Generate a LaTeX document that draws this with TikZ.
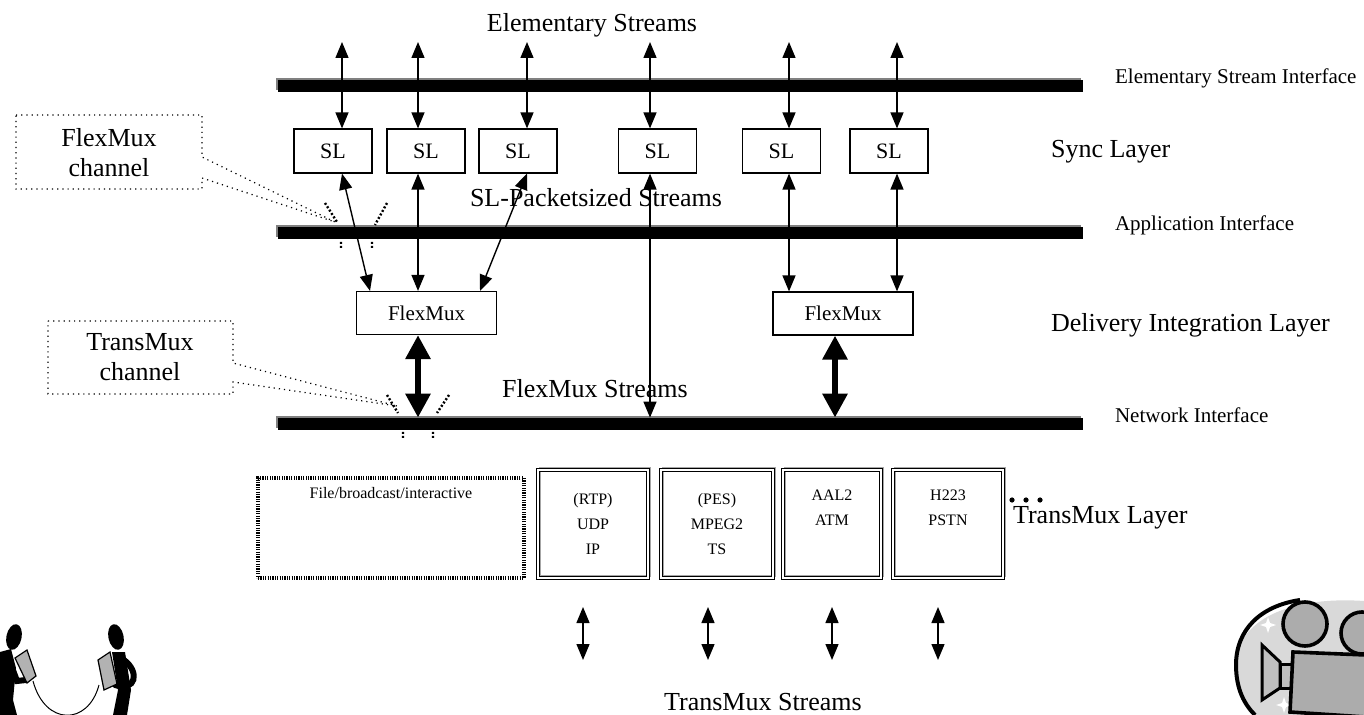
\documentclass[tikz,border=0pt]{standalone}
\usepackage{fontspec}
\setmainfont{Liberation Serif}
\usetikzlibrary{arrows.meta,positioning}

\begin{document}
\begin{tikzpicture}[
        x=0.5pt, y=-0.5pt,
        bigtxt/.style = {font=\fontsize{13}{15}\selectfont},
        iftxt/.style = {font=\fontsize{10.5}{12}\selectfont, anchor=west},
        ifbar/.style = {fill=black, minimum width=402.5pt, minimum height=6pt, inner sep=0pt,
            preaction={fill=gray, transform canvas={shift={(-1pt,1pt)}}}},
        slbox/.style = {draw, line width=0.6pt, minimum width=39pt, minimum height=22pt,
            inner sep=0pt, font=\fontsize{11}{12}\selectfont},
        fmbox/.style = {draw, line width=0.6pt, minimum width=70pt, minimum height=21.5pt,
            inner sep=0pt, font=\fontsize{10.5}{12}\selectfont},
        tmbox/.style = {draw, double, double distance=1pt, line width=0.5pt, minimum height=54pt,
            inner sep=0pt, align=center, font=\fontsize{8}{12.5}\selectfont,
            preaction={draw=gray!70, line width=1pt, transform canvas={shift={(1pt,1pt)}}}},
        filebox/.style = {draw, line width=2pt, dash pattern=on 0.6pt off 0.6pt,
            preaction={draw=gray!60, line width=2pt}},
        callout/.style = {line width=0.6pt, dotted},
        chmark/.style = {line width=1.2pt, dash pattern=on 1pt off 1pt},
        sarrow/.style = {{Triangle[length=8pt,width=6.5pt]}-{Triangle[length=8pt,width=6.5pt]}, line width=0.7pt},
        tarrow/.style = {{Triangle[length=12pt,width=12pt]}-{Triangle[length=12pt,width=12pt]}, line width=3pt}]
    \useasboundingbox (0,0) rectangle (1364,715);

    % interfaces
    \node[ifbar] (esi) at (680.5,86) {};
    \node[ifbar] (api) at (680.5,233) {};
    \node[ifbar] (nwi) at (680.5,424) {};
    \node[iftxt] (esilbl) at (1108,78) {Elementary Stream Interface};
    \node[iftxt] (apilbl) at (1108,225) {Application Interface};
    \node[iftxt] (nwilbl) at (1108,415) {Network Interface};

    % layers
    \node[bigtxt, anchor=west] (synclbl) at (1044,152) {Sync Layer};
    \node[bigtxt, anchor=west] (dellbl) at (1044,325) {Delivery Integration Layer};
    \node[bigtxt, anchor=west] (tmlbl) at (1006,518) {TransMux Layer};

    % streams
    \node[bigtxt] (eslbl) at (592,25) {Elementary Streams};
    \node[bigtxt] (sllbl) at (596,198) {SL-Packetsized Streams};
    \node[bigtxt] (fmlbl) at (595,389) {FlexMux Streams};
    \node[bigtxt] (tmslbl) at (763,702) {TransMux Streams};

    % sync layer
    \node[slbox] (sl1) at (333,151) {SL};
    \node[slbox] (sl2) at (426,151) {SL};
    \node[slbox] (sl3) at (518,151) {SL};
    \node[slbox] (sl4) at (657.5,151) {SL};
    \node[slbox] (sl5) at (781.5,151) {SL};
    \node[slbox] (sl6) at (889,151) {SL};
    \foreach \x [count=\i] in {342,418,527,650,789,897}
        \coordinate (es\i) at (\x,42);
    \foreach \i in {1,...,6}
        \draw[sarrow] (es\i) -- (es\i |- sl\i.north);

    % flexmux
    \node[fmbox] (fm1) at (426.5,313) {FlexMux};
    \node[fmbox] (fm2) at (843,313.5) {FlexMux};
    \draw[sarrow] ([xshift=4.5pt]sl1.south) -- ([xshift=-28.25pt]fm1.north);
    \draw[sarrow] (sl2.south -| es2) -- (fm1.north -| es2);
    \draw[sarrow] ([xshift=4.5pt]sl3.south) -- ([xshift=26.75pt]fm1.north);
    \draw[sarrow] (sl4.south -| es4) -- (nwi.north -| es4);
    \draw[sarrow] (sl5.south -| es5) -- (fm2.north -| es5);
    \draw[sarrow] (sl6.south -| es6) -- (fm2.north -| es6);
    \draw[tarrow] (fm1.south -| es2) -- (nwi.north -| es2);
    \draw[tarrow] ([xshift=-4pt]fm2.south) -- ([xshift=-4pt]fm2.south |- nwi.north);

    % channel callouts
    \node[bigtxt, align=center] (fmchan) at (109,153) {FlexMux\\channel};
    \coordinate (fmtip) at (335,222);
    \draw[callout] (16,115) -- (202,115) -- (202,157) -- (fmtip) -- (202,178) -- (202,189) -- (16,189) -- cycle;
    \draw[chmark] (325,203) -- (337,222) (387,203) -- (375,225)
        (341,242) -- (341,249) (372,242) -- (372,249);
    \node[bigtxt, align=center] (tmchan) at (140,357) {TransMux\\channel};
    \coordinate (tmtip) at (397,406);
    \draw[callout] (48,321) -- (233,321) -- (233,363) -- (tmtip) -- (233,382) -- (233,394) -- (48,394) -- cycle;
    \draw[chmark] (387,395) -- (398,413) (449,395) -- (437,413)
        (403,432) -- (403,439) (433,432) -- (433,439);

    % transmux
    \node[filebox, minimum width=133pt, minimum height=50pt,
        label={[anchor=north, font=\fontsize{8}{10}\selectfont, yshift=-2pt]north:File/broadcast/interactive}]
        (fbi) at (391,528) {};
    \node[tmbox, minimum width=55pt] (rtp) at (593,524) {(RTP)\\UDP\\IP};
    \node[tmbox, minimum width=56pt] (pes) at (717,524) {(PES)\\MPEG2\\TS};
    \node[tmbox, minimum width=49pt] (aal) at (832,524) {AAL2\\ATM\\\strut};
    \node[tmbox, minimum width=55pt] (h223) at (948,524) {H223\\PSTN\\\strut};
    \foreach \x in {1012,1026,1040}
        \fill (\x,500) circle [radius=1.3pt];
    \foreach \x [count=\i] in {583,708,832,938} {
        \coordinate (tsa\i) at (\x,607);
        \coordinate (tsb\i) at (\x,660);
        \draw[sarrow] (tsa\i) -- (tsb\i);
    }

    % tin-can phone
    \fill[rotate around={-12:(14,637)}] (14,637) ellipse [x radius=3.8pt, y radius=6.5pt];
    \fill (0,652) -- (11,649) -- (16,668) -- (13,700) -- (17,715) -- (0,715) -- cycle;
    \draw[line width=3pt, line cap=round] (10,662) -- (17,681) -- (26,680);
    \filldraw[fill=gray!60, line width=0.6pt] (15,658) -- (27,650) -- (36,676) -- (27,683) -- cycle;
    \fill[rotate around={12:(116,637)}] (116,637) ellipse [x radius=3.8pt, y radius=6.5pt];
    \fill (112,652) -- (125,652) -- (131,690) -- (127,715) -- (113,715) -- (118,690) -- cycle;
    \draw[line width=3pt, line cap=round] (124,660) .. controls (140,672) and (136,692) .. (115,685);
    \filldraw[fill=gray!60, line width=0.6pt] (98,660) -- (110,652) -- (117,684) -- (104,690) -- cycle;
    \draw[line width=0.5pt] (33,681) .. controls (45,726) and (88,726) .. (99,685);

    % movie camera
    \fill[gray!30] (1364,601) .. controls (1290,596) and (1236,620) .. (1236,665)
        .. controls (1236,690) and (1245,705) .. (1255,715) -- (1364,715) -- cycle;
    \draw[line width=2pt] (1300,600) .. controls (1260,606) and (1236,630) .. (1236,665)
        .. controls (1236,690) and (1245,705) .. (1255,715);
    \fill[white] (1268,617) -- (1270,623) -- (1276,625) -- (1270,627) -- (1268,633)
        -- (1266,627) -- (1260,625) -- (1266,623) -- cycle;
    \fill[white] (1284,697) -- (1286,703) -- (1292,705) -- (1286,707) -- (1284,713)
        -- (1282,707) -- (1276,705) -- (1282,703) -- cycle;
    \filldraw[fill=gray!65, line width=1.8pt] (1305,624) circle [radius=11pt];
    \filldraw[fill=gray!65, line width=1.8pt] (1362,633) circle [radius=10.5pt];
    \filldraw[fill=gray!50, line width=1.5pt] (1262,645) -- (1280,662) -- (1280,688) -- (1262,700) -- cycle;
    \filldraw[fill=gray!50, line width=1.5pt] (1280,664) rectangle (1292,688);
    \filldraw[fill=gray!65, line width=1.8pt] (1293,652) -- (1366,655) -- (1366,717) -- (1290,712) -- cycle;
\end{tikzpicture}
\end{document}
